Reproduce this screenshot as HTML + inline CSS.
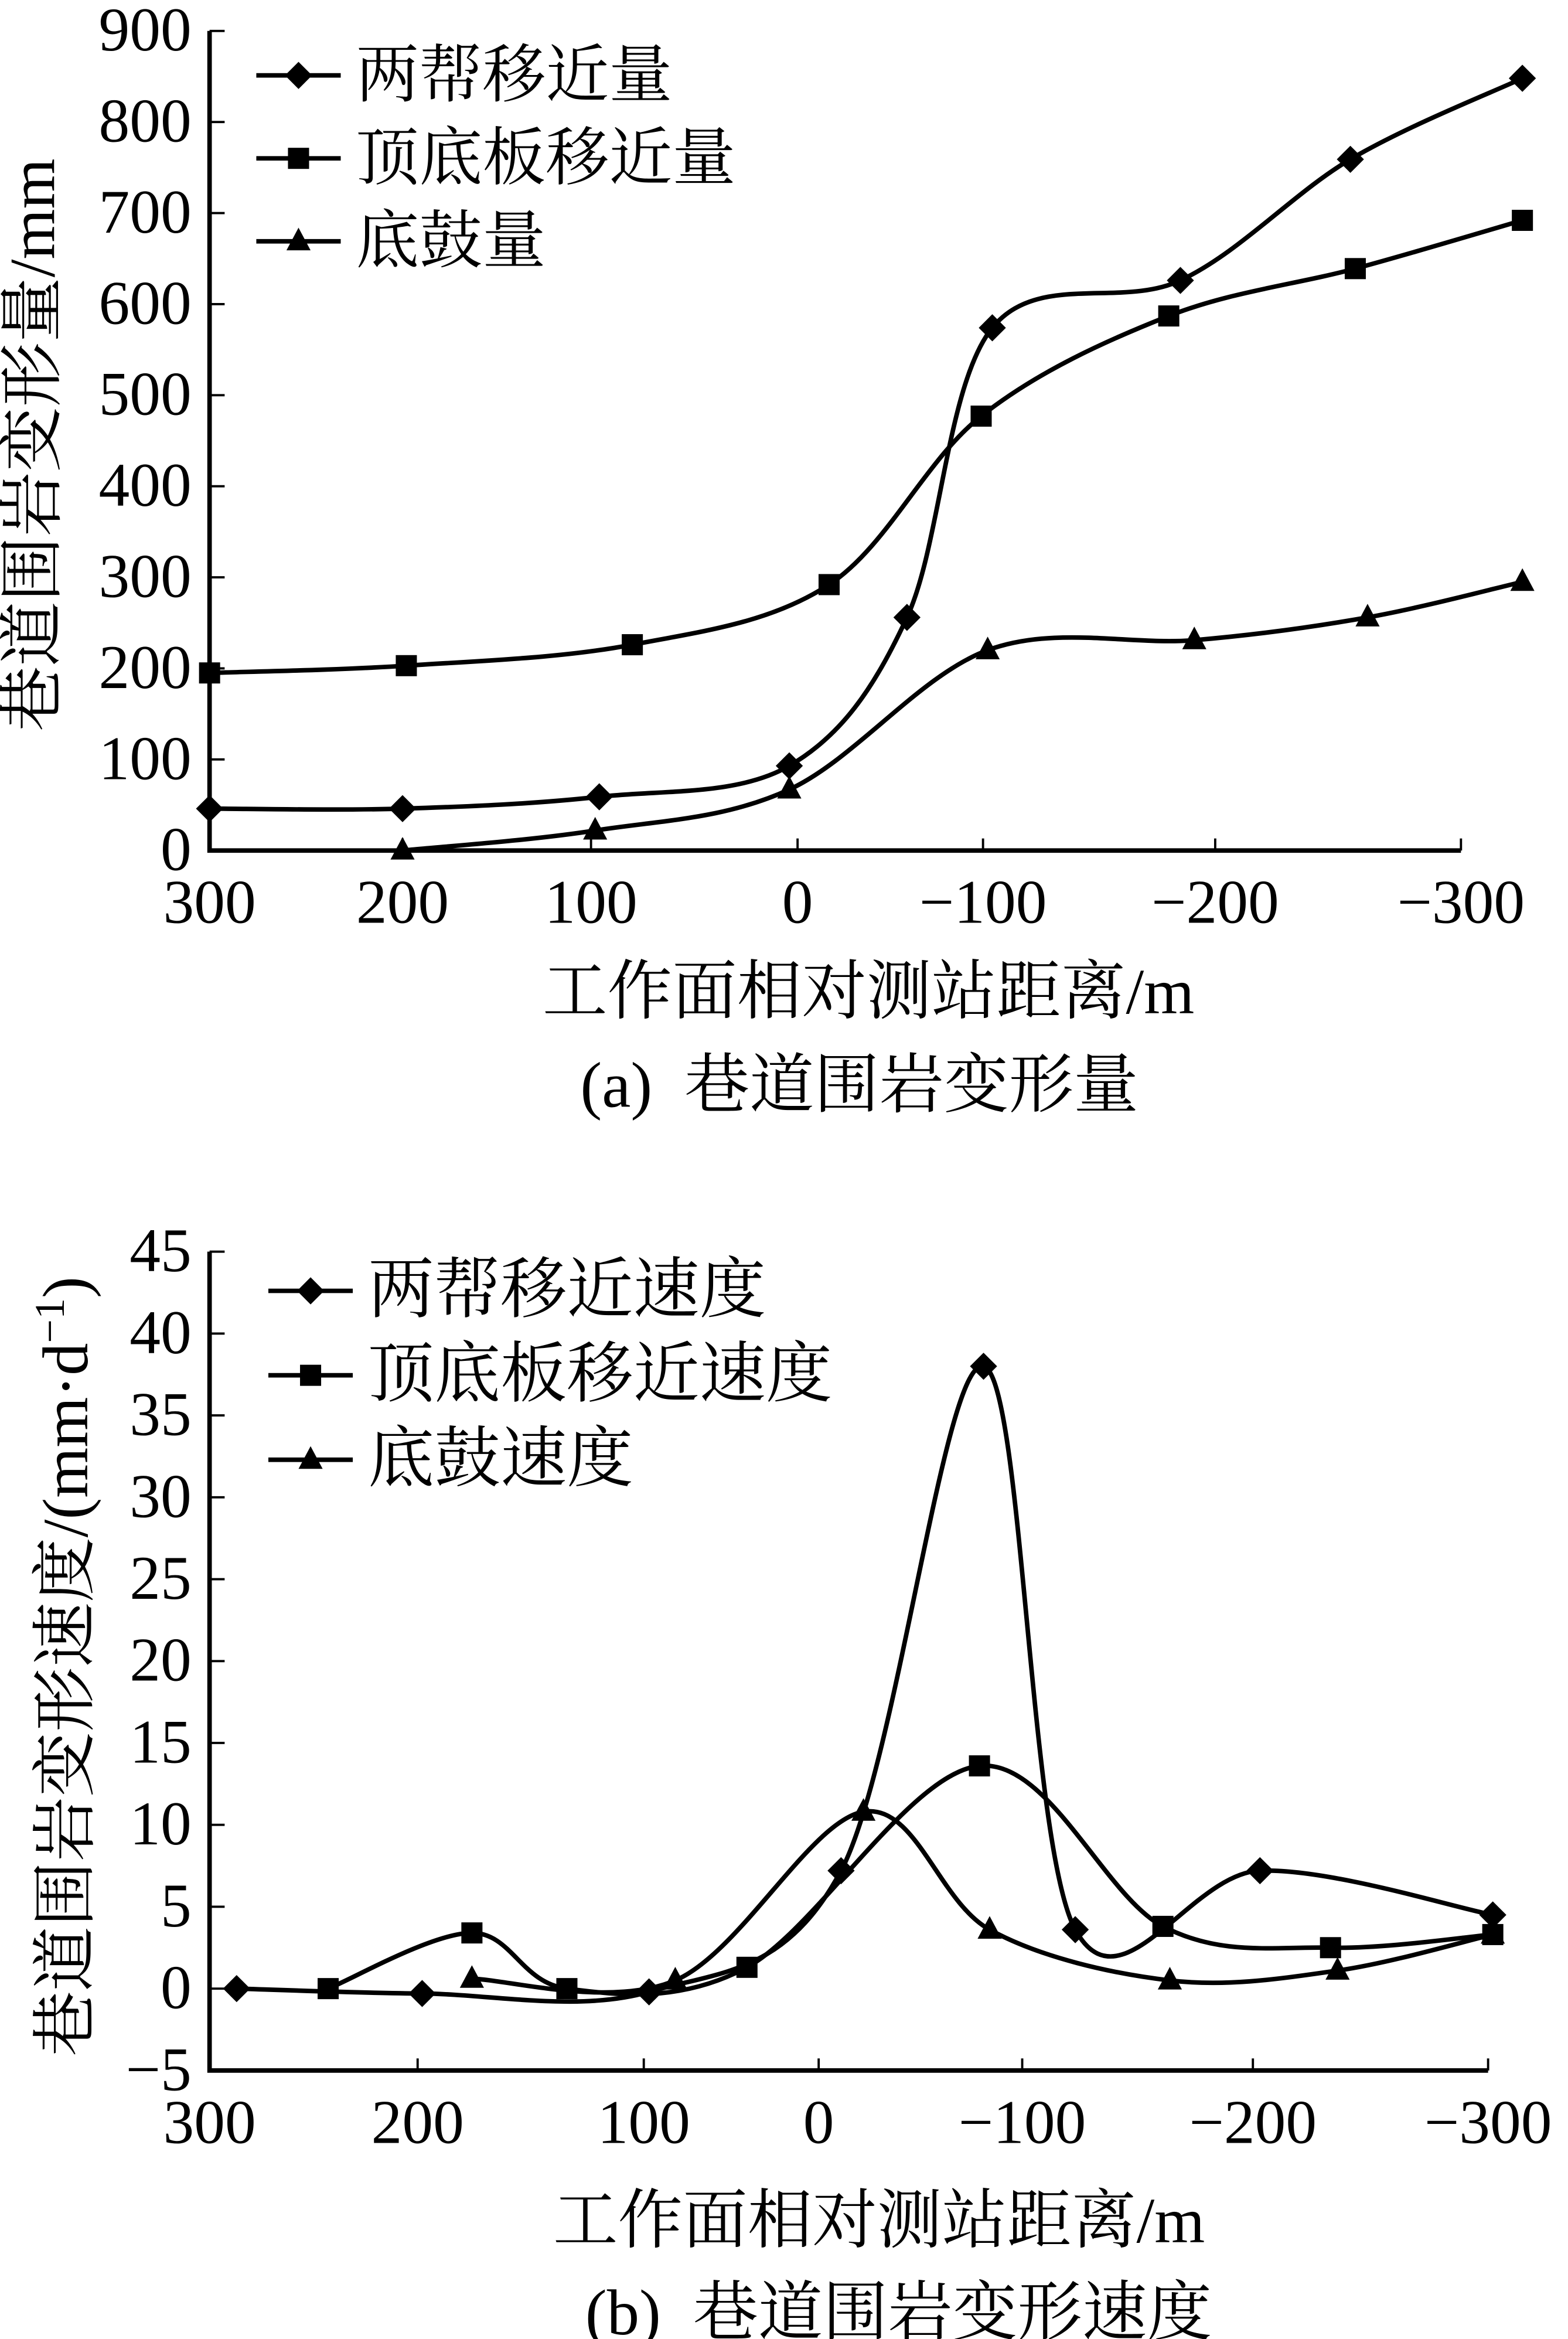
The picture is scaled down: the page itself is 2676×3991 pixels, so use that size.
<!DOCTYPE html>
<html><head><meta charset="utf-8">
<style>
html,body{margin:0;padding:0;background:#fff;}
svg{display:block;}
text{font-family:"Liberation Serif","Noto Serif CJK SC","Noto Sans CJK SC",serif;fill:#000;white-space:pre;}
</style></head>
<body>
<svg id="fig" width="2676" height="3991" viewBox="0 0 1040 1551.05" xmlns="http://www.w3.org/2000/svg">
<g id="chartA"></g>
<g id="chartB"></g>
</svg>
<script>
// ---- Chart (a) data ----
const aTickLabelsX = [300, 200, 100, 0, -100, -200, -300];
const aTickLabelsY = [0, 100, 200, 300, 400, 500, 600, 700, 800, 900];
const aSidesX = [300, 200, 96, 4, -59, -104, -185, -255, -325];
const aSidesY = [46, 46, 59, 93, 256, 574, 626, 759, 848];
const aRoofX = [300, 198, 80, -17, -99, -180, -257, -325];
const aRoofY = [195, 203, 226, 292, 477, 587, 639, 692];
const aFloorX = [200, 98, 4, -102, -191, -262, -325];
const aFloorY = [0, 22, 67, 220, 231, 256, 295];
// ---- Chart (b) data ----
const bTickLabelsX = [300, 200, 100, 0, -100, -200, -300];
const bTickLabelsY = [-5, 0, 5, 10, 15, 20, 25, 30, 35, 40, 45];
const bSidesX = [287, 198, 97, -11, -81, -123, -203, -302];
const bSidesY = [0, -0.3, -0.2, 7.2, 38, 3.6, 7.2, 4.5];
const bRoofX = [243, 176, 134, 41, -79, -161, -233, -302];
const bRoofY = [0, 3.4, 0, 1.3, 13.6, 3.8, 2.5, 3.3];
const bFloorX = [176, 82, -22, -84, -164, -236, -302];
const bFloorY = [0.6, 0.5, 10.8, 3.6, 0.5, 1.1, 3.3];

const NS = "http://www.w3.org/2000/svg";
function mk(parent, tag, attrs){ const e=document.createElementNS(NS,tag); for(const k in attrs) e.setAttribute(k,attrs[k]); parent.appendChild(e); return e; }

function piecewise(vals, pix){
  return function(v){
    for(let i=0;i<vals.length-1;i++){
      const a=vals[i], b=vals[i+1];
      if((v<=a && v>=b) || i===vals.length-2 && v<b || i===0 && v>a){
        return pix[i] + (v-a)/(b-a)*(pix[i+1]-pix[i]);
      }
    }
    return pix[pix.length-1];
  };
}
function linear(v0,v1,p0,p1){ return v=>p0+(v-v0)/(v1-v0)*(p1-p0); }

function spline(pts){
  if(pts.length<2) return "";
  let d="M"+pts[0][0]+","+pts[0][1];
  for(let i=0;i<pts.length-1;i++){
    const p0=pts[Math.max(0,i-1)], p1=pts[i], p2=pts[i+1], p3=pts[Math.min(pts.length-1,i+2)];
    const c1x=p1[0]+(p2[0]-p0[0])/6, c1y=p1[1]+(p2[1]-p0[1])/6;
    const c2x=p2[0]-(p3[0]-p1[0])/6, c2y=p2[1]-(p3[1]-p1[1])/6;
    d+=" C"+c1x+","+c1y+" "+c2x+","+c2y+" "+p2[0]+","+p2[1];
  }
  return d;
}

function marker(g, type, x, y){
  let e;
  if(type==="diamond"){
    e=mk(g,"polygon",{points:`${x},${y-9} ${x+9},${y} ${x},${y+9} ${x-9},${y}`,fill:"#000"});
  } else if(type==="square"){
    e=mk(g,"rect",{x:x-7,y:y-7,width:14,height:14,fill:"#000"});
  } else {
    e=mk(g,"polygon",{points:`${x},${y-9} ${x+8},${y+6} ${x-8},${y+6}`,fill:"#000"});
  }
  return e;
}

function drawChart(g, cfg){
  const X=cfg.xs, Y=cfg.ys;
  const ax=mk(g,"path",{d:`M${cfg.left},${cfg.top} L${cfg.left},${cfg.bottom} L${cfg.right},${cfg.bottom}`,fill:"none",stroke:"#000","stroke-width":3});
  
  
  cfg.yTicks.forEach(v=>{
    const y=Y(v);
    const t=mk(g,"line",{x1:cfg.left,y1:y,x2:cfg.left+10,y2:y,stroke:"#000","stroke-width":1.5});
    
    
    const l=mk(g,"text",{x:cfg.left-12,y:y+13,"text-anchor":"end","font-size":cfg.fs});
    l.textContent = v<0 ? "\u2212"+(-v) : String(v);
    
    
  });
  cfg.xTicks.forEach(v=>{
    const x=X(v);
    const t=mk(g,"line",{x1:x,y1:cfg.bottom,x2:x,y2:cfg.bottom-8,stroke:"#000","stroke-width":1.5});
    
    
    const l=mk(g,"text",{x:x,y:cfg.bottom+48,"text-anchor":"middle","font-size":cfg.fs});
    l.textContent = v<0 ? "\u2212"+(-v) : String(v);
    
    
  });
  cfg.series.forEach(s=>{
    const sg=mk(g,"g",{});
    
    
    const pts=s.xs.map((xv,i)=>[X(xv),Y(s.ys[i])]);
    const p=mk(sg,"path",{d:spline(pts),fill:"none",stroke:"#000","stroke-width":3});
    
    
    pts.forEach(pt=>{
      const m=marker(sg,s.marker,pt[0],pt[1]);
      
      
    });
  });
  cfg.legend.forEach((lg,i)=>{
    const lgG=mk(g,"g",{});
    
    
    const y=cfg.legY+i*cfg.legDy;
    mk(lgG,"line",{x1:cfg.legX,y1:y,x2:cfg.legX+56,y2:y,stroke:"#000","stroke-width":3});
    marker(lgG,lg.marker,cfg.legX+28,y);
    const t=mk(lgG,"text",{x:cfg.legX+66,y:y+14,"font-size":cfg.legFs});
    t.textContent=lg.label;
  });
  const xt=mk(g,"text",{x:cfg.xtX,y:cfg.xtY,"text-anchor":"middle","font-size":43});
  xt.textContent="工作面相对测站距离/m";
  
  
  const yt=mk(g,"text",{x:0,y:0,"text-anchor":"middle","font-size":43,transform:`translate(${cfg.ytX},${cfg.ytY}) rotate(-90)`});
  yt.innerHTML=cfg.yTitle;
  
  
  const cp=mk(g,"text",{x:cfg.capX,y:cfg.capY,"text-anchor":"middle","font-size":43});
  cp.textContent=cfg.caption;
  
  
}

drawChart(document.getElementById("chartA"),{
  left:139,right:969,top:20.5,bottom:564,fs:41,
  xs:piecewise(aTickLabelsX,[139,267,392,529,652,806,969]),
  ys:linear(0,900,564,20.5),
  xTicks:aTickLabelsX, yTicks:aTickLabelsY,
  series:[
    {name:"sides-convergence",marker:"diamond",xs:aSidesX,ys:aSidesY},
    {name:"roof-floor-convergence",marker:"square",xs:aRoofX,ys:aRoofY},
    {name:"floor-heave",marker:"triangle",xs:aFloorX,ys:aFloorY}
  ],
  legend:[{marker:"diamond",label:"两帮移近量"},{marker:"square",label:"顶底板移近量"},{marker:"triangle",label:"底鼓量"}],
  legX:170,legY:50,legDy:55,legFs:42,
  xtX:576,xtY:672,ytX:36,ytY:295,yTitle:"巷道围岩变形量/mm",
  capX:570,capY:734,caption:"(a)\u00a0\u00a0巷道围岩变形量"
});

drawChart(document.getElementById("chartB"),{
  left:139,right:987,top:830,bottom:1373,fs:41,
  xs:piecewise(bTickLabelsX,[139,277,427,543,678,831,987]),
  ys:linear(-5,45,1373,830),
  xTicks:bTickLabelsX, yTicks:bTickLabelsY,
  series:[
    {name:"sides-convergence-rate",marker:"diamond",xs:bSidesX,ys:bSidesY},
    {name:"roof-floor-convergence-rate",marker:"square",xs:bRoofX,ys:bRoofY},
    {name:"floor-heave-rate",marker:"triangle",xs:bFloorX,ys:bFloorY}
  ],
  legend:[{marker:"diamond",label:"两帮移近速度"},{marker:"square",label:"顶底板移近速度"},{marker:"triangle",label:"底鼓速度"}],
  legX:178,legY:856,legDy:56,legFs:44,
  xtX:583,xtY:1487,ytX:58,ytY:1105,yTitle:"巷道围岩变形速度/(mm·d<tspan baseline-shift=\"super\" font-size=\"28\">−1</tspan>)",
  capX:596,capY:1548,caption:"(b)\u00a0\u00a0巷道围岩变形速度"
});
</script>
</body></html>
